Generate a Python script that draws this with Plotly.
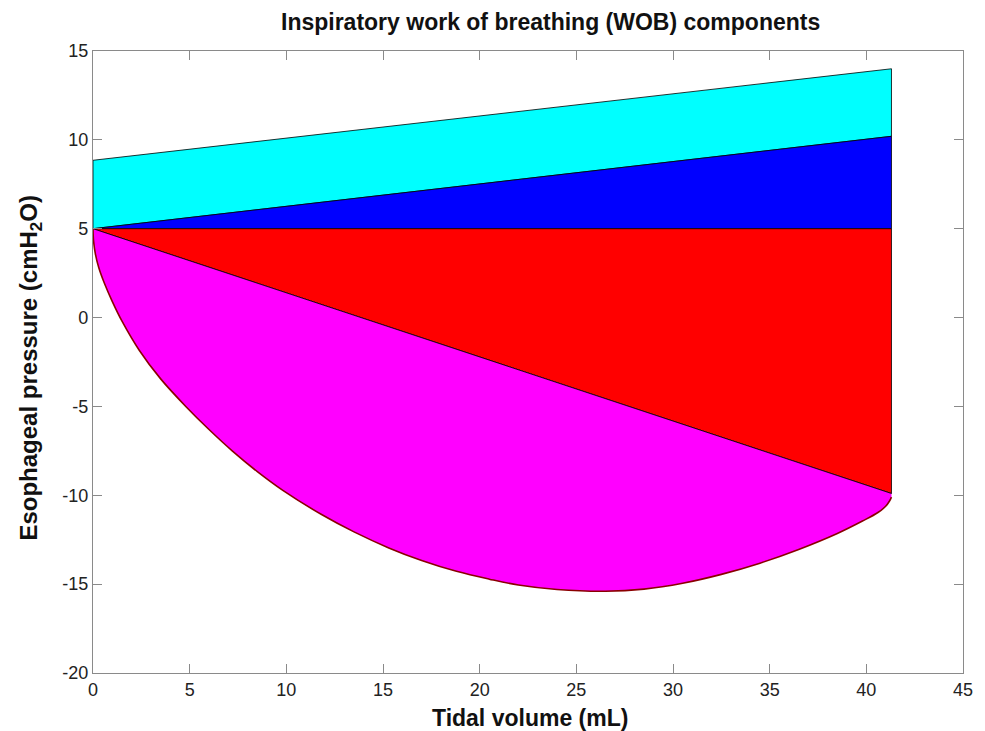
import plotly.graph_objects as go

# ---- data ----
vol_edges = [0.0, 41.3]                 # start / end tidal volume (mL)
cyan_top = [8.85, 14.0]                 # upper edge of cyan band
blue_top = [5.0, 10.2]                  # upper edge of blue band
peep = [5.0, 5.0]                       # horizontal baseline
red_bottom = [5.0, -9.9]                # lower edge of red triangle

curve_vol = [0.0, 0.03, 0.12, 0.3, 0.6, 1.0, 1.5, 2.4, 3.5, 4.8, 6.0, 7.2, 8.5, 9.8,
             11.8, 13.5, 15.3, 17.0, 18.8, 20.5, 22.0, 24.0, 26.5, 28.5, 30.5, 32.5,
             34.5, 36.5, 38.5, 39.8, 40.6, 41.0, 41.2, 41.3]
curve_pes = [5.0, 4.3, 3.6, 2.8, 1.9, 0.9, -0.2, -1.85, -3.45, -5.0, -6.3, -7.5, -8.67, -9.71,
             -11.07, -12.06, -12.96, -13.67, -14.28, -14.72, -15.05, -15.3, -15.4, -15.28, -14.95, -14.45,
             -13.82, -13.05, -12.15, -11.45, -10.97, -10.62, -10.32, -10.1]

x_ticks = [0, 5, 10, 15, 20, 25, 30, 35, 40, 45]
y_ticks = [-20, -15, -10, -5, 0, 5, 10, 15]

FONT = "Liberation Sans, Arial, sans-serif"
edge = dict(color="black", width=0.8)

fig = go.Figure()

x0, x1 = vol_edges

# cyan band
fig.add_trace(go.Scatter(
    x=[x0, x0, x1, x1, x0], y=[blue_top[0], cyan_top[0], cyan_top[1], blue_top[1], blue_top[0]],
    fill="toself", fillcolor="#00FFFF", mode="lines", line=edge, hoverinfo="skip", showlegend=False))
# blue band
fig.add_trace(go.Scatter(
    x=[x0, x1, x1, x0], y=[blue_top[0], blue_top[1], peep[1], peep[0]],
    fill="toself", fillcolor="#0000FF", mode="lines", line=edge, hoverinfo="skip", showlegend=False))
# red triangle
fig.add_trace(go.Scatter(
    x=[x0, x1, x1, x0], y=[peep[0], peep[1], red_bottom[1], red_bottom[0]],
    fill="toself", fillcolor="#FF0000", mode="lines", line=edge, hoverinfo="skip", showlegend=False))
# diagonal (upper edge of the magenta region)
fig.add_trace(go.Scatter(
    x=[x0, x1], y=red_bottom, mode="lines", line=edge, hoverinfo="skip", showlegend=False))
# pressure curve, filled up to the diagonal
fig.add_trace(go.Scatter(
    x=curve_vol, y=curve_pes, mode="lines", fill="tonexty", fillcolor="#FF00FF",
    line=dict(color="#8B0000", width=1.6, shape="spline", smoothing=1.0),
    hoverinfo="skip", showlegend=False))

axis_common = dict(
    showgrid=False, zeroline=False, showline=True, linecolor="#8a8a8a", linewidth=1.2,
    mirror="allticks", ticks="inside", ticklen=9, tickwidth=1.2, tickcolor="#8a8a8a",
    tickfont=dict(family=FONT, size=18, color="#222222"),
)

fig.update_layout(
    width=985, height=731,
    margin=dict(l=93, r=20, t=51, b=58),
    paper_bgcolor="white", plot_bgcolor="white",
    xaxis=dict(range=[0, 45], tickvals=x_ticks, ticktext=[str(v) for v in x_ticks], **axis_common),
    yaxis=dict(range=[-20, 15], tickvals=y_ticks, ticktext=[str(v) for v in y_ticks], **axis_common),
    annotations=[
        dict(text="<b>Inspiratory work of breathing (WOB) components</b>", xref="paper", yref="paper",
             x=0.526, y=1.047, showarrow=False, xanchor="center", yanchor="middle",
             font=dict(family=FONT, size=23, color="#111111")),
        dict(text="<b>Tidal volume (mL)</b>", xref="paper", yref="paper",
             x=0.502, y=-0.072, showarrow=False, xanchor="center", yanchor="middle",
             font=dict(family=FONT, size=23, color="#111111")),
        dict(text="<b>Esophageal pressure (cmH<sub>2</sub>O)</b>", xref="paper", yref="paper",
             x=-0.072, y=0.49, showarrow=False, xanchor="center", yanchor="middle", textangle=-90,
             font=dict(family=FONT, size=24, color="#111111")),
    ],
)

fig.write_html("out.html")
